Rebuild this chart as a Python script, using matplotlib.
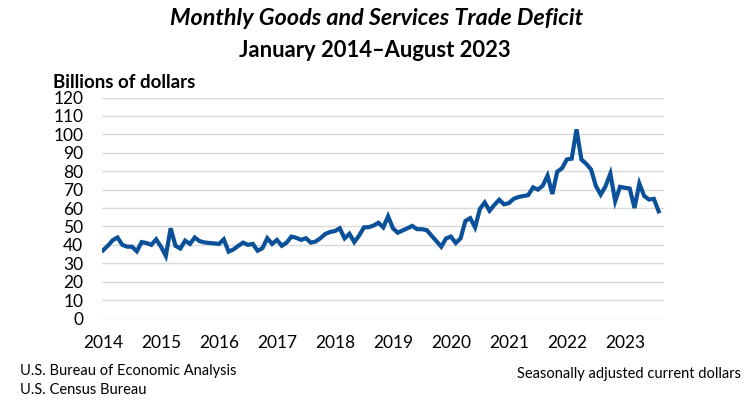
import numpy as np
import matplotlib
matplotlib.use("Agg")
import matplotlib.pyplot as plt

# Monthly trade deficit, billions of dollars, Jan 2014 - Aug 2023
deficit_2014 = [37, 39.5, 42.5, 44, 40, 39, 39, 36.5, 41.5, 41, 40, 43]
deficit_2015 = [39, 34, 49, 39.5, 38, 42.3, 40.5, 44, 42, 41.3, 41, 40.8]
deficit_2016 = [40.5, 43, 36.3, 37.5, 39.5, 41.2, 40, 40.5, 36.8, 38.2, 43.6, 40.5]
deficit_2017 = [42.7, 39.5, 41.2, 44.5, 43.8, 42.7, 43.6, 41.2, 41.8, 43.6, 45.9, 47]
deficit_2018 = [47.5, 49, 43.5, 46, 41.5, 45, 49.5, 49.6, 50.5, 52, 49.5, 55.5]
deficit_2019 = [49, 46.6, 47.8, 49, 50.3, 48.5, 48.5, 48, 45, 42, 39, 43.5]
deficit_2020 = [44.5, 41, 43.5, 53, 54.5, 49.5, 59.5, 63, 58.5, 61.7, 64.5, 62]
deficit_2021 = [62.7, 65, 66, 66.5, 67, 71.2, 70, 72.1, 77.6, 67.6, 79.7, 81.6]
deficit_2022 = [86.4, 86.8, 102.7, 86.4, 84, 81, 72, 67.3, 71.8, 78.7, 63.7, 71.5]
deficit_2023 = [71, 70.6, 60, 73.3, 66.5, 64.6, 65, 58.2]

deficit = (deficit_2014 + deficit_2015 + deficit_2016 + deficit_2017 + deficit_2018
           + deficit_2019 + deficit_2020 + deficit_2021 + deficit_2022 + deficit_2023)
months = np.arange(len(deficit))
year_labels = ["2014", "2015", "2016", "2017", "2018", "2019", "2020", "2021", "2022", "2023"]
y_ticks = list(range(0, 121, 10))

FONT = ["Lato", "DejaVu Sans"]
plt.rcParams["font.family"] = FONT

fig = plt.figure(figsize=(7.53, 4.07), dpi=100)
ax = fig.add_axes([0.1355, 0.2174, 0.7463, 0.543])

ax.plot(months, deficit, color="#0b5199", lw=3.0, solid_joinstyle="miter", zorder=3)

ax.set_xlim(-0.2, 116.1)
ax.set_ylim(0, 120)
ax.set_yticks(y_ticks)
ax.set_yticklabels([str(v) for v in y_ticks], fontsize=12.5)
ax.set_xticks(np.arange(0, 12 * len(year_labels), 12))
ax.set_xticklabels(year_labels, fontsize=12.5)
ax.tick_params(axis="both", length=0, colors="black")
ax.tick_params(axis="y", pad=13.5)
ax.tick_params(axis="x", pad=12)
ax.grid(axis="y", color="#d9d9d9", lw=1.0)
ax.set_axisbelow(True)
for s in ax.spines.values():
    s.set_visible(False)

fig.text(0.500, 0.954, "Monthly Goods and Services Trade Deficit", ha="center", va="center",
         fontsize=16.8, fontweight="bold", fontstyle="italic")
fig.text(0.498, 0.877, "January 2014\u2013August 2023", ha="center", va="center",
         fontsize=15.8, fontweight="bold")
fig.text(0.0704, 0.797, "Billions of dollars", ha="left", va="center",
         fontsize=13.5, fontweight="bold")
fig.text(0.026, 0.088, "U.S. Bureau of Economic Analysis", ha="left", va="center", fontsize=10.5)
fig.text(0.026, 0.041, "U.S. Census Bureau", ha="left", va="center", fontsize=10.5)
fig.text(0.984, 0.080, "Seasonally adjusted current dollars", ha="right", va="center", fontsize=10.5)

fig.savefig("out.png", dpi=100)
